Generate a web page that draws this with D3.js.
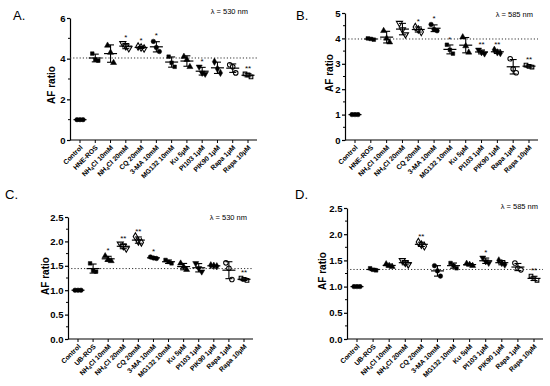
<!DOCTYPE html>
<meta charset="utf-8">
<style>
body { margin: 0; background: #fff; }
svg { font-family: "Liberation Sans", Arial, sans-serif; }
.yax text { font-size: 9.5px; font-weight: bold; }
.yax path, .yax line, .xax line { stroke: #000; stroke-width: 1.2px; }
.xlab { font-size: 6.8px; font-weight: bold; }
.ytitle { font-size: 10px; font-weight: bold; }
.plab { font-size: 13px; }
.lam { font-size: 7.5px; }
.star { font-size: 8px; }
</style>
<html>
  <head>
    <script type="text/javascript" src="https://cdn.jsdelivr.net/npm/d3@7"></script>
  </head>
  <body>
<script type="text/javascript">
// categories
var catsAB = ["Control", "HNE-ROS", "NH4Cl 10mM", "NH4Cl 20mM", "CQ 20mM", "3-MA 10mM",
              "MG132 10mM", "Ku 5µM", "PI103 1µM", "PIK90 1µM", "Rapa 1µM", "Rapa 10µM"];
var catsCD = ["Control", "UB-ROS", "NH4Cl 10mM", "NH4Cl 20mM", "CQ 20mM", "3-MA 10mM",
              "MG132 10mM", "Ku 5µM", "PI103 1µM", "PIK90 1µM", "Rapa 1µM", "Rapa 10µM"];

// replicate values (3 per group)
var valsA = [[1, 1, 1], [4.25, 3.95, 3.9], [4.65, 4.3, 3.8], [4.75, 4.6, 4.5], [4.6, 4.55, 4.5],
             [4.85, 4.55, 4.35], [4.1, 3.8, 3.6], [4.1, 3.95, 3.6], [3.6, 3.3, 3.25],
             [3.85, 3.5, 3.3], [3.7, 3.6, 3.3], [3.25, 3.2, 3.1]];
var valsB = [[1, 1, 1], [4.0, 3.98, 3.95], [4.3, 4.0, 3.85], [4.6, 4.35, 4.15], [4.45, 4.35, 4.25],
             [4.55, 4.35, 4.3], [3.75, 3.55, 3.4], [4.05, 3.7, 3.45], [3.55, 3.45, 3.4],
             [3.55, 3.45, 3.42], [3.2, 2.8, 2.65], [2.95, 2.9, 2.87]];
var valsC = [[1, 1, 1], [1.55, 1.4, 1.38], [1.7, 1.63, 1.6], [1.95, 1.9, 1.85], [2.1, 2.0, 1.98],
             [1.68, 1.66, 1.65], [1.62, 1.58, 1.55], [1.55, 1.48, 1.42], [1.55, 1.45, 1.38],
             [1.51, 1.5, 1.49], [1.56, 1.45, 1.22], [1.25, 1.22, 1.2]];
var valsD = [[1, 1, 1], [1.35, 1.32, 1.31], [1.43, 1.4, 1.38], [1.5, 1.45, 1.42], [1.85, 1.8, 1.77],
             [1.4, 1.3, 1.2], [1.45, 1.4, 1.35], [1.44, 1.42, 1.4], [1.55, 1.48, 1.45],
             [1.5, 1.45, 1.42], [1.45, 1.35, 1.32], [1.2, 1.15, 1.12]];

// significance marks
var starsA = ["", "", "", "*", "*", "*", "", "", "*", "", "", "**"];
var starsB = ["", "", "", "", "*", "*", "*", "", "**", "**", "", "**"];
var starsC = ["", "", "*", "**", "**", "*", "", "", "", "", "", "**"];
var starsD = ["", "", "", "", "**", "", "", "", "*", "", "", "**"];

// y tick values
var ticksA = [0, 2, 4, 6];
var ticksB = [0, 1, 2, 3, 4, 5];
var ticksCD = [0, 0.5, 1.0, 1.5, 2.0, 2.5];

var panels = [
  {name: "A.", cats: catsAB, vals: valsA, stars: starsA, ticks: ticksA, fmt: d3.format("d"), lam: "λ = 530 nm",
   x0: 70, x1: 257, top: 18, bottom: 140, lx: 13, ly: 20, tx: 53, ty: 85, lamx: 248, lamy: 14},
  {name: "B.", cats: catsAB, vals: valsB, stars: starsB, ticks: ticksB, fmt: d3.format("d"), lam: "λ = 585 nm",
   x0: 345, x1: 538, top: 13, bottom: 140, lx: 296, ly: 20, tx: 331, ty: 73, lamx: 533, lamy: 17},
  {name: "C.", cats: catsCD, vals: valsC, stars: starsC, ticks: ticksCD, fmt: d3.format(".1f"), lam: "λ = 530 nm",
   x0: 68, x1: 253, top: 217, bottom: 339, lx: 5, ly: 199, tx: 47, ty: 276, lamx: 247, lamy: 220},
  {name: "D.", cats: catsCD, vals: valsD, stars: starsD, ticks: ticksCD, fmt: d3.format(".1f"), lam: "λ = 585 nm",
   x0: 347, x1: 543, top: 208, bottom: 339, lx: 295, ly: 199, tx: 324, ty: 271, lamx: 538, lamy: 209}
];

// marker shape per column, and whether it's filled
var shapes = ["circle", "square", "up", "down", "diamond", "circle", "square", "up", "down", "diamond", "circle", "square"];
var filled = [1, 1, 1, 0, 0, 1, 1, 1, 1, 1, 0, 0];
var jit = [-3, 0, 3];

var svg = d3.select("body").append("svg")
    .attr("width", 550).attr("height", 386);
svg.append("rect").attr("width", 550).attr("height", 386).attr("fill", "#fff");

function symPath(s) {
  var t = s == "circle" ? d3.symbolCircle : s == "square" ? d3.symbolSquare
        : s == "diamond" ? d3.symbolDiamond : d3.symbolTriangle;
  return d3.symbol().type(t).size(s == "square" ? 13 : 16)();
}

panels.forEach(function(p) {
  var g = svg.append("g");
  var maxV = p.ticks[p.ticks.length - 1];
  var y = d3.scaleLinear().domain([0, maxV]).range([p.bottom, p.top]);
  var x = d3.scalePoint().domain(d3.range(p.cats.length)).range([p.x0 + 10, p.x1 - 9]);

  // y axis
  g.append("g").attr("class", "yax").attr("transform", "translate(" + p.x0 + ",0)")
    .call(d3.axisLeft(y).tickValues(p.ticks).tickSize(3).tickSizeOuter(0).tickPadding(1.5).tickFormat(p.fmt));
  // minor ticks
  var step = p.ticks[1] - p.ticks[0];
  g.selectAll(".minor").data(p.ticks.slice(1).map(function(t) { return t - step / 2; }))
    .enter().append("line")
    .attr("x1", p.x0 - 2).attr("x2", p.x0)
    .attr("y1", function(d) { return y(d); }).attr("y2", function(d) { return y(d); })
    .attr("stroke", "#000").attr("stroke-width", 1);

  // x axis
  g.append("line").attr("x1", p.x0).attr("x2", p.x1).attr("y1", p.bottom).attr("y2", p.bottom)
    .attr("stroke", "#000").attr("stroke-width", 1.2);
  g.selectAll(".xt").data(p.cats).enter().append("line")
    .attr("x1", function(d, i) { return x(i); }).attr("x2", function(d, i) { return x(i); })
    .attr("y1", p.bottom).attr("y2", p.bottom + 3)
    .attr("stroke", "#000").attr("stroke-width", 1);

  p.cats.forEach(function(c, i) {
    var t = g.append("text").attr("class", "xlab")
      .attr("text-anchor", "end")
      .attr("transform", "translate(" + (x(i) + 3) + "," + (p.bottom + 8) + ") rotate(-45)");
    if (c.indexOf("NH4Cl") == 0) {
      t.append("tspan").text("NH");
      t.append("tspan").text("4").attr("font-size", "5px").attr("dy", 1.5);
      t.append("tspan").text(c.slice(3)).attr("dy", -1.5);
    } else {
      t.text(c);
    }
  });

  // dotted reference at the ROS group mean
  var ref = d3.mean(p.vals[1]);
  g.append("line").attr("x1", p.x0).attr("x2", p.x1).attr("y1", y(ref)).attr("y2", y(ref))
    .attr("stroke", "#333").attr("stroke-width", 1).attr("stroke-dasharray", "1.2,2");

  // points, mean and SD
  p.vals.forEach(function(v, i) {
    var cx = x(i), m = d3.mean(v), sd = d3.deviation(v) || 0;
    v.forEach(function(val, k) {
      var s = shapes[i];
      g.append("path").attr("d", symPath(s))
        .attr("transform", "translate(" + (cx + jit[k]) + "," + y(val) + ")" + (s == "down" ? " rotate(180)" : ""))
        .attr("fill", filled[i] ? "#000" : "#fff")
        .attr("stroke", "#000").attr("stroke-width", filled[i] ? 0.5 : 1.1);
    });
    g.append("line").attr("x1", cx - 6.5).attr("x2", cx + 6.5).attr("y1", y(m)).attr("y2", y(m))
      .attr("stroke", "#000").attr("stroke-width", 1.2);
    if (sd > 0) {
      g.append("line").attr("x1", cx).attr("x2", cx).attr("y1", y(m - sd)).attr("y2", y(m + sd))
        .attr("stroke", "#000").attr("stroke-width", 1.1);
      [m - sd, m + sd].forEach(function(e) {
        g.append("line").attr("x1", cx - 3.5).attr("x2", cx + 3.5).attr("y1", y(e)).attr("y2", y(e))
          .attr("stroke", "#000").attr("stroke-width", 1.1);
      });
    }
    if (p.stars[i]) {
      var topV = Math.max(d3.max(v), m + sd);
      g.append("text").attr("class", "star").attr("text-anchor", "middle")
        .attr("x", cx).attr("y", y(topV) - 3).text(p.stars[i]);
    }
  });

  // titles
  g.append("text").attr("class", "ytitle").attr("text-anchor", "middle")
    .attr("transform", "translate(" + (p.tx + 2) + "," + p.ty + ") rotate(-90)").text("AF ratio");
  g.append("text").attr("class", "plab").attr("x", p.lx).attr("y", p.ly).text(p.name);
  g.append("text").attr("class", "lam").attr("text-anchor", "end")
    .attr("x", p.lamx).attr("y", p.lamy).text(p.lam);
});
</script>
  </body>
</html>
